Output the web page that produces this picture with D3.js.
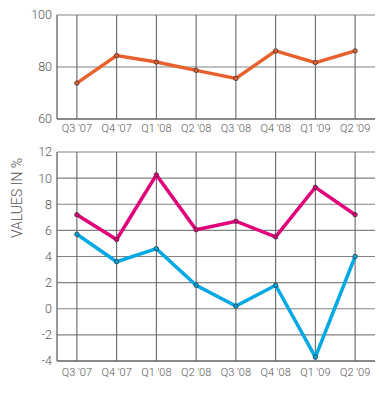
<!DOCTYPE html>
<html><head><meta charset="utf-8">
<script src="https://cdn.jsdelivr.net/npm/d3@7/dist/d3.min.js"></script>
<style>body{margin:0;background:#fff}svg{display:block}</style>
</head><body>
<svg id="c" width="391" height="397"></svg>
<script>
const categories = ["Q3 '07","Q4 '07","Q1 '08","Q2 '08","Q3 '08","Q4 '08","Q1 '09","Q2 '09"];
const topSeries = [73.8, 84.4, 81.9, 78.7, 75.6, 86.2, 81.7, 86.2];
const magentaSeries = [7.2, 5.3, 10.25, 6.05, 6.7, 5.5, 9.3, 7.2];
const cyanSeries = [5.7, 3.6, 4.6, 1.8, 0.2, 1.8, -3.7, 4.0];
const topTicks = [60, 80, 100];
const bottomTicks = [-4, -2, 0, 2, 4, 6, 8, 10, 12];
const yLabel = "VALUES IN %";

const svg = d3.select("#c");
const font = "Roboto, 'DejaVu Sans', sans-serif";
const left = 57, right = 375;
const x = d3.scaleBand().domain(categories).range([left, right]);
const cx = d => x(d) + x.bandwidth()/2;

function panel(y0, y1, domain, ticks, series, labelOffset) {
  const y = d3.scaleLinear().domain(domain).range([y1, y0]);
  const g = svg.append("g");
  g.selectAll(".h").data(ticks).join("line")
    .attr("x1", left).attr("x2", right)
    .attr("y1", d => y(d)).attr("y2", d => y(d))
    .attr("stroke", "#828282").attr("stroke-width", 1.1);
  g.selectAll(".v").data(categories).join("line")
    .attr("x1", d => cx(d)).attr("x2", d => cx(d))
    .attr("y1", y0).attr("y2", y1)
    .attr("stroke", "#666").attr("stroke-width", 1.1);
  g.append("line").attr("x1", left).attr("x2", left).attr("y1", y0).attr("y2", y1)
    .attr("stroke", "#555").attr("stroke-width", 1.2);
  g.append("line").attr("x1", left).attr("x2", right).attr("y1", y1).attr("y2", y1)
    .attr("stroke", "#555").attr("stroke-width", 1.2);
  g.selectAll(".yt").data(ticks).join("text")
    .attr("x", 52).attr("y", d => y(d)).attr("dy", "0.35em")
    .attr("text-anchor", "end").attr("font-family", font)
    .attr("font-size", 12.5).attr("font-weight", 300).attr("fill", "#555")
    .text(d => d);
  g.selectAll(".xt").data(categories).join("text")
    .attr("x", d => cx(d)).attr("y", y1 + labelOffset).attr("text-anchor", "middle")
    .attr("font-family", font).attr("font-size", 11).attr("font-weight", 300)
    .attr("fill", "#555").text(d => d);
  series.forEach(s => {
    const line = d3.line().x((d, i) => cx(categories[i])).y(d => y(d));
    g.append("path").datum(s.values).attr("d", line).attr("fill", "none")
      .attr("stroke", s.color).attr("stroke-width", 3.5).attr("stroke-linejoin", "miter");
    g.selectAll(null).data(s.values).join("circle")
      .attr("cx", (d, i) => cx(categories[i])).attr("cy", d => y(d)).attr("r", 2.2)
      .attr("fill", s.color).attr("stroke", "#333").attr("stroke-width", 0.8);
  });
}

panel(15, 119, [60, 100], topTicks, [{values: topSeries, color: "#E8612C"}], 13);
panel(152, 361, [-4, 12], bottomTicks, [
  {values: magentaSeries, color: "#E2007A"},
  {values: cyanSeries, color: "#00A8E4"}
], 15);

svg.append("text")
  .attr("transform", "translate(22,198) rotate(-90)")
  .attr("text-anchor", "middle").attr("font-family", font)
  .attr("font-size", 14).attr("font-weight", 300).attr("fill", "#555")
  .text(yLabel);
</script>
</body></html>
